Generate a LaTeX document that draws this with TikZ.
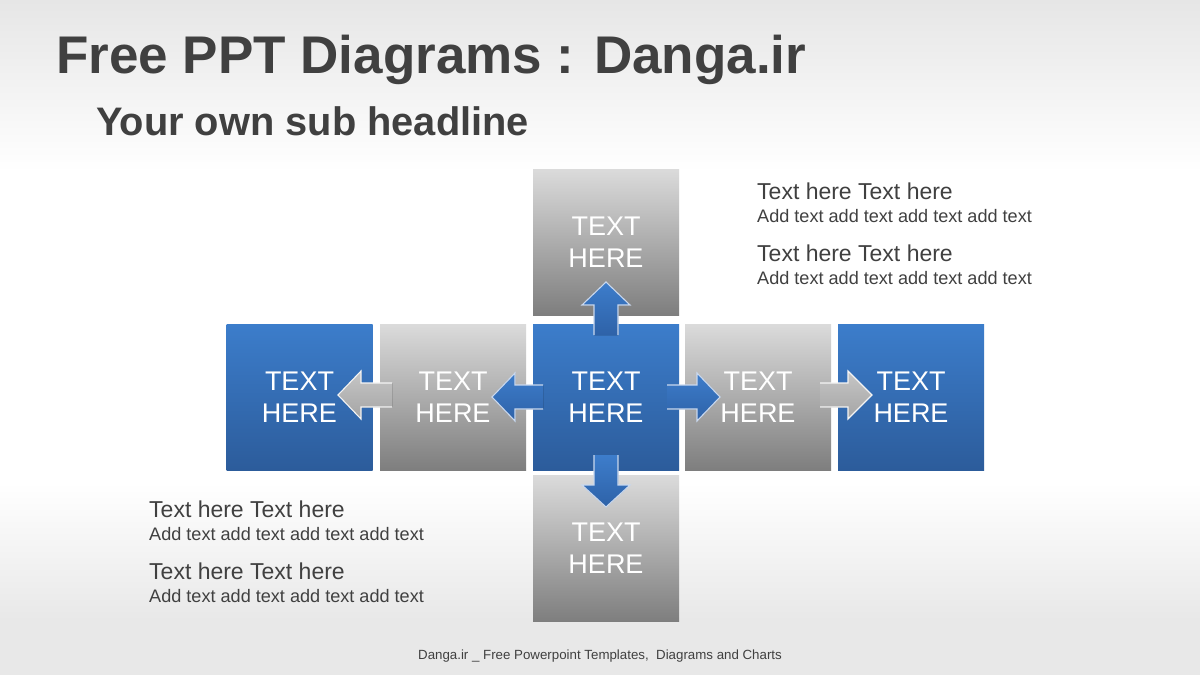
\documentclass[tikz,border=0pt]{standalone}
\usepackage{fontspec}
\setmainfont{Liberation Sans}
\usetikzlibrary{calc}
\definecolor{txt}{HTML}{404040}
\definecolor{bgtop}{HTML}{E6E6E6}
\definecolor{bgbot}{HTML}{E8E8E8}
\definecolor{blueTop}{HTML}{3C7DCB}
\definecolor{blueBot}{HTML}{2C5C9B}
\definecolor{grayTop}{HTML}{DBDBDB}
\definecolor{grayBot}{HTML}{7E7E7E}
\definecolor{abTop}{HTML}{3D7DCB}
\definecolor{abBot}{HTML}{2E62A8}
\definecolor{agTop}{HTML}{C6C6C6}
\definecolor{agBot}{HTML}{A4A4A4}
\definecolor{alineB}{HTML}{C9D8EE}
\definecolor{alineG}{HTML}{F4F4F4}
% horizontal block arrow: tail x, head base x, tip x, centre y, fill style, outline colour
\newcommand\myharrow[6]{%
  \fill[#5] (#1,#4-12) -- (#2,#4-12) -- (#2,#4-24) -- (#3,#4) -- (#2,#4+24) -- (#2,#4+12) -- (#1,#4+12) -- cycle;
  \draw[arrowline, draw=#6] (#1,#4-12) -- (#2,#4-12) -- (#2,#4-24) -- (#3,#4) -- (#2,#4+24) -- (#2,#4+12) -- (#1,#4+12);
}
% vertical block arrow: centre x, tail y, head base y, tip y, fill style, outline colour
\newcommand\myvarrow[6]{%
  \fill[#5] (#1-12,#2) -- (#1-12,#3) -- (#1-24,#3) -- (#1,#4) -- (#1+24,#3) -- (#1+12,#3) -- (#1+12,#2) -- cycle;
  \draw[arrowline, draw=#6] (#1-12,#2) -- (#1-12,#3) -- (#1-24,#3) -- (#1,#4) -- (#1+24,#3) -- (#1+12,#3) -- (#1+12,#2);
}
\begin{document}
\begin{tikzpicture}[x=1pt,y=-1pt,
  box/.style={rectangle, minimum width=146pt, minimum height=146pt, inner sep=0pt,
    text=white, align=center, font=\fontsize{27}{32}\selectfont},
  bluebox/.style={box, top color=blueTop, bottom color=blueBot},
  graybox/.style={box, top color=grayTop, bottom color=grayBot},
  bluearrow/.style={top color=abTop, bottom color=abBot},
  grayarrow/.style={top color=agTop, bottom color=agBot},
  arrowline/.style={line width=1.1pt, line join=miter},
  head/.style={anchor=base west, inner sep=0pt, text=txt, font=\fontsize{23}{27}\selectfont},
  sub/.style={anchor=base west, inner sep=0pt, text=txt, font=\fontsize{18.1}{21}\selectfont}]
\useasboundingbox (0,0) rectangle (1200,675);
% background
\fill[top color=bgtop, bottom color=white] (0,0) rectangle (1200,172);
\fill[white] (0,172) rectangle (1200,483);
\fill[top color=white, bottom color=bgbot] (0,483) rectangle (1200,620);
\fill[bgbot] (0,620) rectangle (1200,675);
% titles
\node[anchor=base west, inner sep=0pt, text=txt, font=\bfseries\fontsize{53}{60}\selectfont] (title) at (56,73) {Free PPT Diagrams : Danga.ir};
\node[anchor=base west, inner sep=0pt, text=txt, font=\bfseries\fontsize{39.8}{45}\selectfont] (subtitle) at (96,135) {Your own sub headline};
% boxes
\node[bluebox] (b1) at (299.5,397) {TEXT\\HERE};
\node[graybox] (b2) at (453,397) {TEXT\\HERE};
\node[bluebox] (c) at (606,397) {TEXT\\HERE};
\node[graybox] (b4) at (758,397) {TEXT\\HERE};
\node[bluebox] (b5) at (911,397) {TEXT\\HERE};
\node[graybox] (top) at (606,242) {TEXT\\HERE};
\node[graybox] (bot) at (606,548.5) {TEXT\\HERE};
% block arrows
\myharrow{392}{361}{338}{395}{grayarrow}{alineG}
\myharrow{543}{515}{492}{397}{bluearrow}{alineB}
\myharrow{667}{697}{720}{397}{bluearrow}{alineB}
\myharrow{820}{848}{872}{395}{grayarrow}{alineG}
\myvarrow{606}{335}{305}{282}{bluearrow}{alineB}
\myvarrow{606}{455}{485}{507}{bluearrow}{alineB}
% text blocks
\node[head] (r1) at (757,199) {Text here Text here};
\node[sub] (r2) at (757,222) {Add text add text add text add text};
\node[head] (r3) at (757,261) {Text here Text here};
\node[sub] (r4) at (757,284) {Add text add text add text add text};
\node[head] (l1) at (149,517) {Text here Text here};
\node[sub] (l2) at (149,540) {Add text add text add text add text};
\node[head] (l3) at (149,579) {Text here Text here};
\node[sub] (l4) at (149,602) {Add text add text add text add text};
% footer
\node[anchor=base, inner sep=0pt, text=txt, font=\fontsize{13.3}{15}\selectfont] (footer) at (600,659) {Danga.ir \_ Free Powerpoint Templates,\ \ Diagrams\ and Charts};
\end{tikzpicture}
\end{document}
